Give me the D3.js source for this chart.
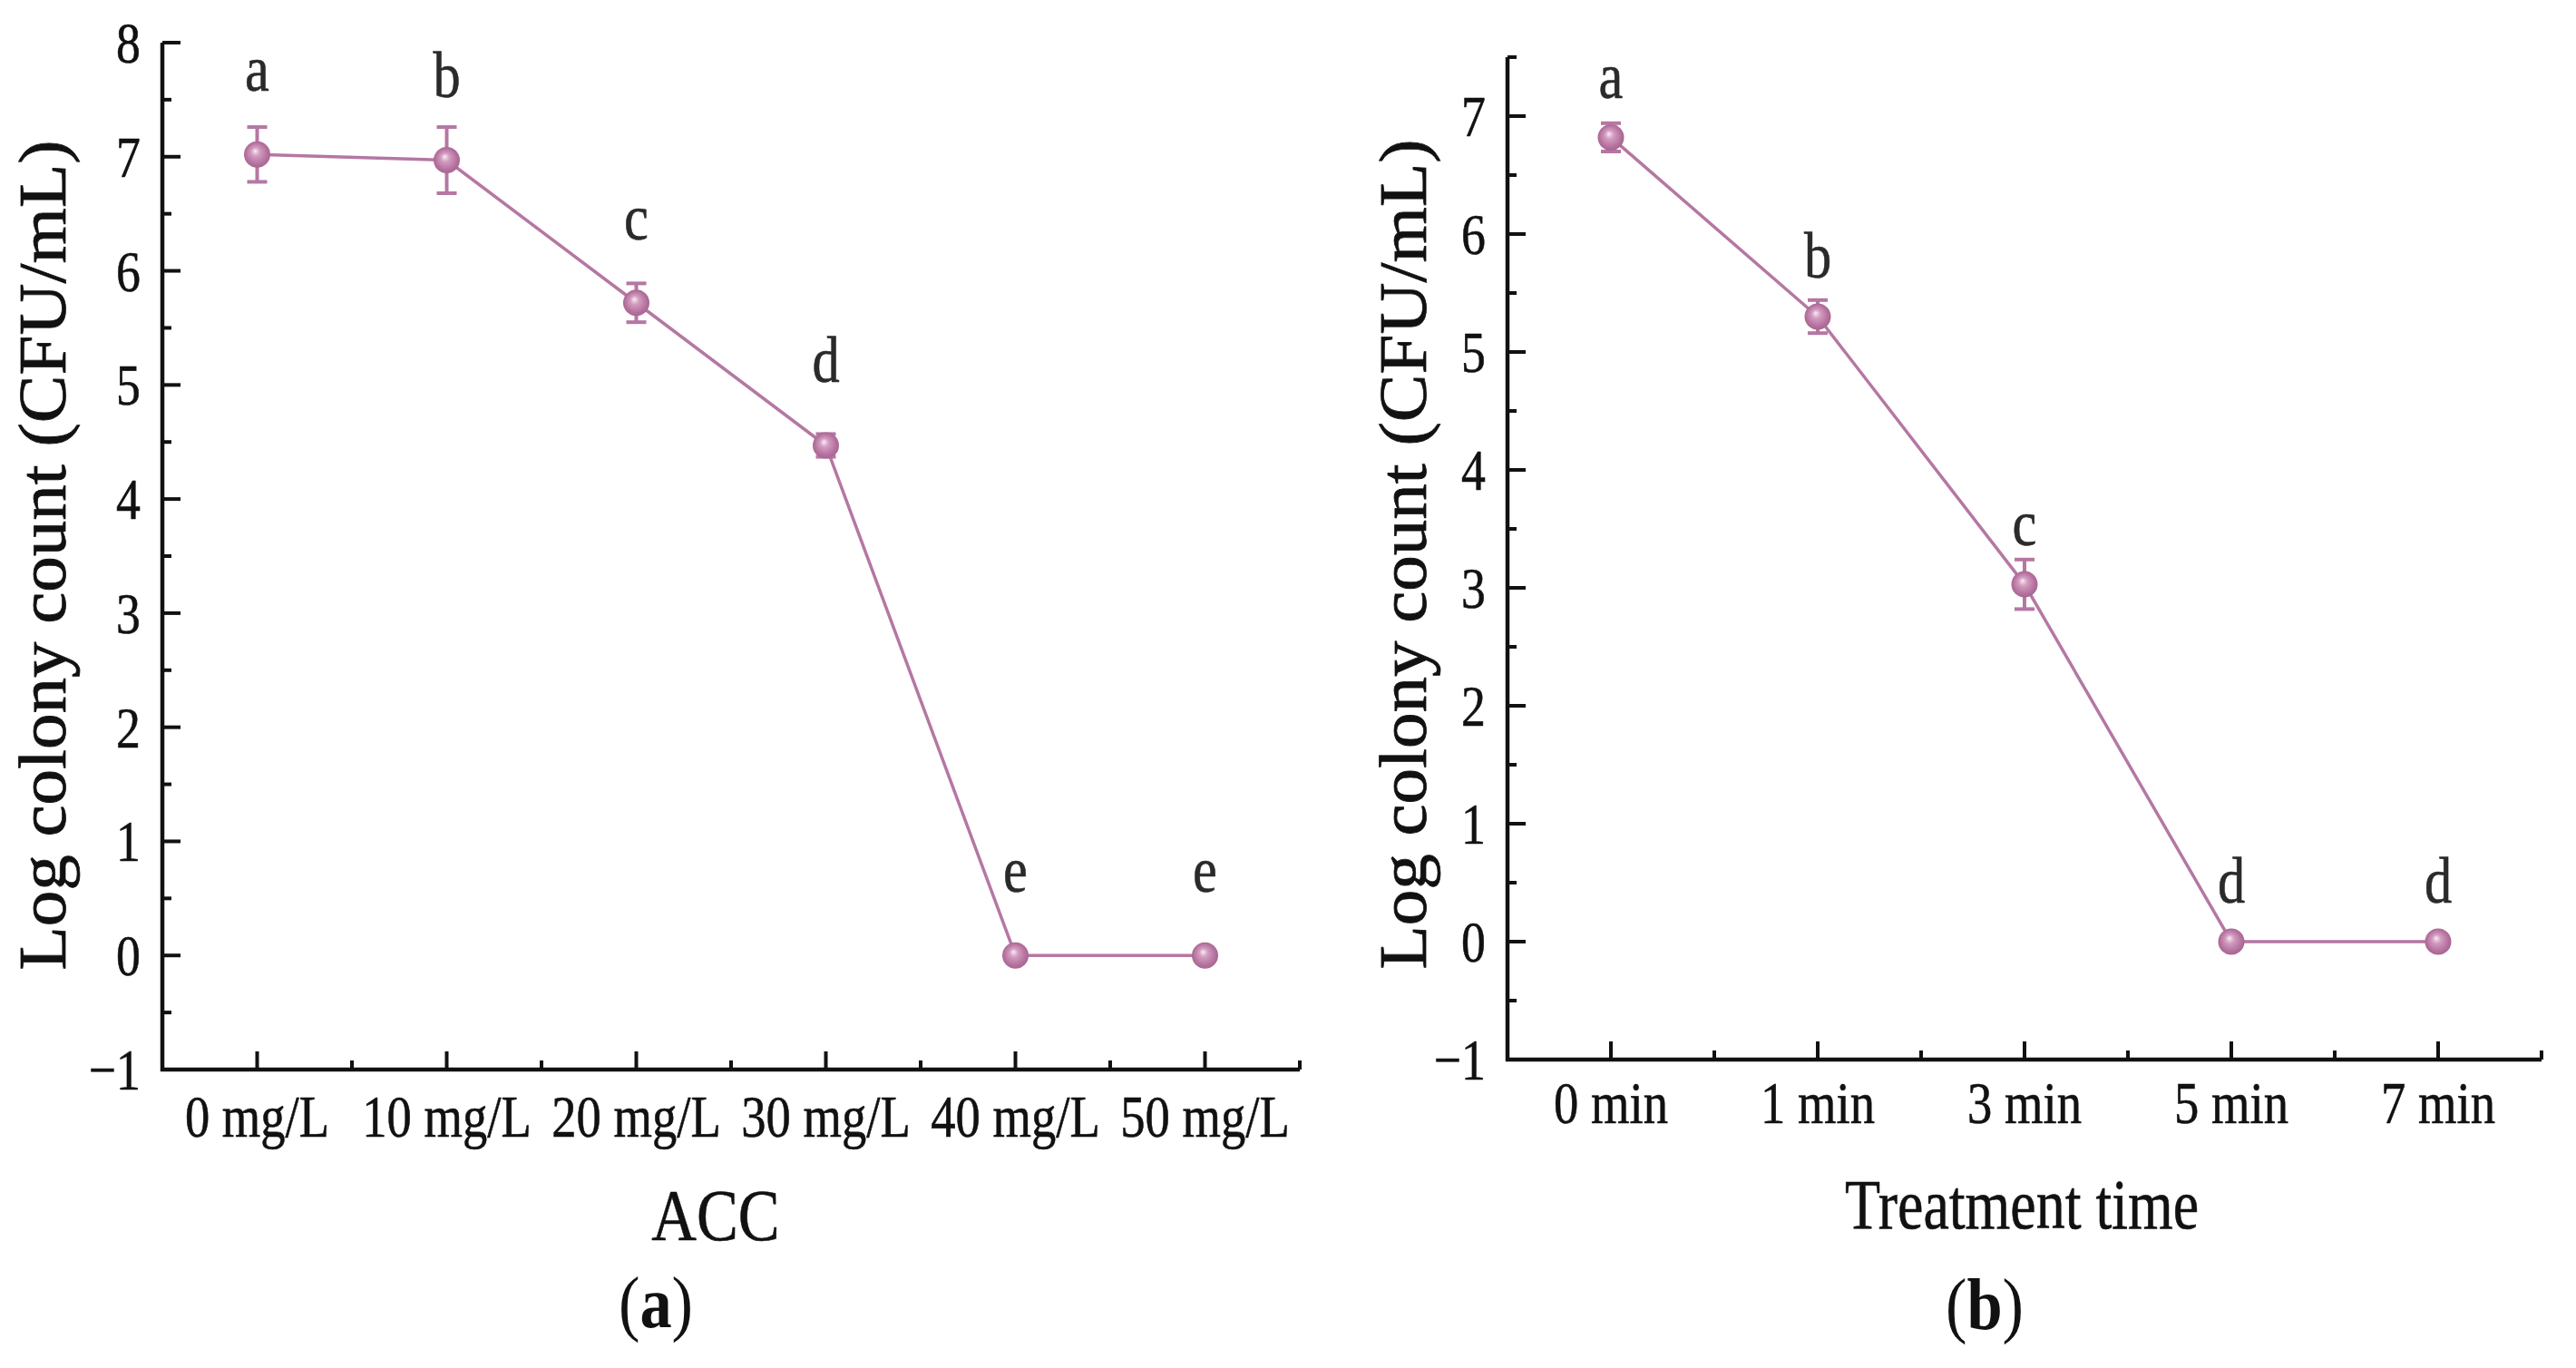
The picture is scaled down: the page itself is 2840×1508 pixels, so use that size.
<!DOCTYPE html>
<html>
<head>
<meta charset="utf-8">
<script src="https://cdn.jsdelivr.net/npm/d3@7"></script>
<style>
  html, body { margin: 0; padding: 0; background: #fff; }
  svg { display: block; }
</style>
</head>
<body>
<svg id="chart" width="2840" height="1508"></svg>
<script>
// ---------- data ----------
const accCategories = ["0 mg/L", "10 mg/L", "20 mg/L", "30 mg/L", "40 mg/L", "50 mg/L"];
const accMeans      = [7.02, 6.97, 5.72, 4.47, 0, 0];
const accErrors     = [0.24, 0.29, 0.17, 0.10, 0, 0];
const accLetters    = ["a", "b", "c", "d", "e", "e"];
const accYTicks     = [-1, 0, 1, 2, 3, 4, 5, 6, 7, 8];

const timeCategories = ["0 min", "1 min", "3 min", "5 min", "7 min"];
const timeMeans      = [6.82, 5.30, 3.03, 0, 0];
const timeErrors     = [0.12, 0.14, 0.21, 0, 0];
const timeLetters    = ["a", "b", "c", "d", "d"];
const timeYTicks     = [-1, 0, 1, 2, 3, 4, 5, 6, 7];

const yTitle = "Log colony count (CFU/mL)";

// ---------- layout / style ----------
const FONT = "'Liberation Serif', 'Times New Roman', 'DejaVu Serif', serif";
const SX = 0.84;               // horizontal squeeze of the serif text
const LINE_COLOR = "#b577a3";
const INK = "#111";

const panels = [
  {
    cats: accCategories, means: accMeans, errs: accErrors, letters: accLetters, yTicks: accYTicks,
    x0: 179, x1: 1433, yMin: -1, yMax: 8, yPxMin: 1179, yPxMax: 47,
    letterOffset: 70, xLabelDy: 74, yLabelRight: 155,
    xTitle: "ACC", xTitleX: 789, xTitleY: 1367, xTitleSize: 80, xTitleSX: 0.86,
    sub: "a", subX: 723, subY: 1463,
    yTitleX: 72, yTitleY: 612
  },
  {
    cats: timeCategories, means: timeMeans, errs: timeErrors, letters: timeLetters, yTicks: timeYTicks,
    x0: 1662, x1: 2802, yMin: -1, yMax: 7.5, yPxMin: 1168, yPxMax: 63,
    letterOffset: 43, xLabelDy: 70, yLabelRight: 1638,
    xTitle: "Treatment time", xTitleX: 2229, xTitleY: 1354, xTitleSize: 78, xTitleSX: 0.82,
    sub: "b", subX: 2188, subY: 1465,
    yTitleX: 1572, yTitleY: 611
  }
];

const svg = d3.select("#chart");
svg.append("rect").attr("width", 2840).attr("height", 1508).attr("fill", "#fff");

// sphere-like marker gradient
const defs = svg.append("defs");
const grad = defs.append("radialGradient").attr("id", "ball")
  .attr("cx", "50%").attr("cy", "50%").attr("r", "55%")
  .attr("fx", "42%").attr("fy", "36%");
grad.append("stop").attr("offset", "0%").attr("stop-color", "#f7edf3");
grad.append("stop").attr("offset", "30%").attr("stop-color", "#d39cc1");
grad.append("stop").attr("offset", "75%").attr("stop-color", "#b3709c");
grad.append("stop").attr("offset", "100%").attr("stop-color", "#a2628d");

function squeezedText(g, x, y, txt, opts) {
  const t = g.append("text")
    .attr("transform", `translate(${x},${y}) scale(${opts.sx || SX},1)`)
    .attr("x", 0).attr("y", 0)
    .attr("text-anchor", opts.anchor || "middle")
    .attr("font-family", FONT)
    .attr("font-size", opts.size)
    .attr("fill", opts.fill || INK)
    .attr("stroke", opts.fill || INK).attr("stroke-width", 0.6);
  if (opts.weight) t.attr("font-weight", opts.weight);
  t.text(txt);
  return t;
}

panels.forEach(p => {
  const g = svg.append("g");
  const n = p.cats.length;
  const x = d3.scaleLinear().domain([-0.5, n - 0.5]).range([p.x0, p.x1]);
  const y = d3.scaleLinear().domain([p.yMin, p.yMax]).range([p.yPxMin, p.yPxMax]);
  const yAxisPx = y(p.yMin);

  // ---- axes lines ----
  g.append("line").attr("x1", p.x0).attr("x2", p.x0).attr("y1", y(p.yMin) + 2).attr("y2", y(p.yMax))
    .attr("stroke", INK).attr("stroke-width", 4.5);
  g.append("line").attr("x1", p.x0 - 2).attr("x2", p.x1).attr("y1", yAxisPx).attr("y2", yAxisPx)
    .attr("stroke", INK).attr("stroke-width", 4.5);

  // ---- y ticks (major + minor, inward) ----
  const yMinor = d3.range(p.yMin + 0.5, p.yMax + 0.001, 1);
  g.selectAll(".ymaj").data(p.yTicks).enter().append("line")
    .attr("x1", p.x0).attr("x2", p.x0 + 20)
    .attr("y1", d => y(d)).attr("y2", d => y(d))
    .attr("stroke", INK).attr("stroke-width", 4);
  g.selectAll(".ymin").data(yMinor).enter().append("line")
    .attr("x1", p.x0).attr("x2", p.x0 + 10)
    .attr("y1", d => y(d)).attr("y2", d => y(d))
    .attr("stroke", INK).attr("stroke-width", 4);
  p.yTicks.forEach(v => {
    squeezedText(g, p.yLabelRight, y(v) + 22, v < 0 ? "\u2212" + Math.abs(v) : String(v),
      { size: 64, anchor: "end" });
  });

  // ---- x ticks ----
  const idx = d3.range(n);
  const xMinor = d3.range(-0.5, n - 0.5 + 0.001, 1);
  g.selectAll(".xmaj").data(idx).enter().append("line")
    .attr("x1", d => x(d)).attr("x2", d => x(d))
    .attr("y1", yAxisPx).attr("y2", yAxisPx - 20)
    .attr("stroke", INK).attr("stroke-width", 4);
  g.selectAll(".xmin").data(xMinor).enter().append("line")
    .attr("x1", d => x(d)).attr("x2", d => x(d))
    .attr("y1", yAxisPx).attr("y2", yAxisPx - 10)
    .attr("stroke", INK).attr("stroke-width", 4);
  idx.forEach(i => {
    squeezedText(g, x(i), yAxisPx + p.xLabelDy, p.cats[i], { size: 65 });
  });

  // ---- titles ----
  squeezedText(g, p.xTitleX, p.xTitleY, p.xTitle, { size: p.xTitleSize, sx: p.xTitleSX });
  const sub = g.append("text")
    .attr("transform", `translate(${p.subX},${p.subY}) scale(0.88,1)`)
    .attr("text-anchor", "middle").attr("font-family", FONT).attr("font-size", 80).attr("fill", INK);
  sub.append("tspan").text("(");
  sub.append("tspan").attr("font-weight", "bold").text(p.sub);
  sub.append("tspan").text(")");

  g.append("text")
    .attr("transform", `translate(${p.yTitleX},${p.yTitleY}) rotate(-90) scale(1,0.95)`)
    .attr("text-anchor", "middle").attr("font-family", FONT).attr("font-size", 79).attr("fill", INK)
    .attr("stroke", INK).attr("stroke-width", 0.8)
    .text(yTitle);

  // ---- data line ----
  const line = d3.line().x((d, i) => x(i)).y(d => y(d));
  g.append("path").datum(p.means).attr("d", line)
    .attr("fill", "none").attr("stroke", LINE_COLOR).attr("stroke-width", 3.5)
    .attr("stroke-linejoin", "round");

  // ---- error bars ----
  idx.filter(i => p.errs[i] > 0).forEach(i => {
    const cx = x(i), top = y(p.means[i] + p.errs[i]), bot = y(p.means[i] - p.errs[i]);
    g.append("line").attr("x1", cx).attr("x2", cx).attr("y1", top).attr("y2", bot)
      .attr("stroke", LINE_COLOR).attr("stroke-width", 4);
    [top, bot].forEach(yy => {
      g.append("line").attr("x1", cx - 11).attr("x2", cx + 11).attr("y1", yy).attr("y2", yy)
        .attr("stroke", LINE_COLOR).attr("stroke-width", 4);
    });
  });

  // ---- markers ----
  g.selectAll(".pt").data(p.means).enter().append("circle")
    .attr("cx", (d, i) => x(i)).attr("cy", d => y(d)).attr("r", 14.5)
    .attr("fill", "url(#ball)");

  // ---- significance letters ----
  idx.forEach(i => {
    squeezedText(g, x(i), y(p.means[i]) - p.letterOffset, p.letters[i], { size: 72, fill: "#2a2a2a" });
  });
});
</script>
</body>
</html>
